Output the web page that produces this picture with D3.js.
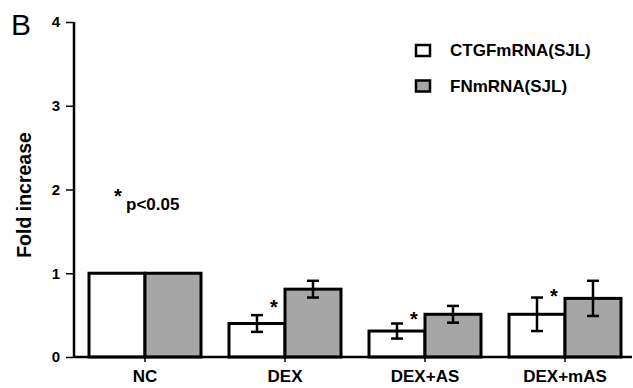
<!DOCTYPE html>
<html>
<head>
<meta charset="utf-8">
<script src="https://cdn.jsdelivr.net/npm/d3@7"></script>
<style>
  body { margin: 0; background: #fff; }
  text { font-family: "Liberation Sans", Arial, sans-serif; font-weight: bold; fill: #000; }
</style>
</head>
<body>
<div id="chart"></div>
<script>
var svgWidth = 633;
var svgHeight = 388;

// data
var groups = ["NC", "DEX", "DEX+AS", "DEX+mAS"];
var seriesNames = ["CTGFmRNA(SJL)", "FNmRNA(SJL)"];
var ctgfMean = [1.0, 0.40, 0.31, 0.51];
var ctgfErr = [0, 0.10, 0.09, 0.20];
var fnMean = [1.0, 0.81, 0.51, 0.70];
var fnErr = [0, 0.10, 0.10, 0.21];
var starLevel = [null, 0.645, 0.50, 0.78];
var yTicks = [0, 1, 2, 3, 4];

var margin = { top: 22, right: 0, bottom: 31, left: 74 };

var svg = d3.select("#chart")
  .append("svg")
  .attr("width", svgWidth)
  .attr("height", svgHeight);

var yScale = d3.scaleLinear()
  .domain([0, 4])
  .range([svgHeight - margin.bottom, margin.top]);

var xScale = d3.scaleBand()
  .domain(groups)
  .range([margin.left + 1, 635])
  .paddingInner(0.2)
  .paddingOuter(0.1);

var xSub = d3.scaleBand()
  .domain(seriesNames)
  .range([0, xScale.bandwidth()]);

var colors = ["#ffffff", "#a6a6a6"];

var rows = groups.map(function(g, i) {
  return [
    { group: g, s: 0, mean: ctgfMean[i], err: ctgfErr[i] },
    { group: g, s: 1, mean: fnMean[i], err: fnErr[i] }
  ];
});

// bars
var barG = svg.append("g");
rows.forEach(function(pair) {
  pair.forEach(function(d) {
    var x0 = xScale(d.group) + xSub(seriesNames[d.s]);
    barG.append("rect")
      .attr("x", x0)
      .attr("y", yScale(d.mean))
      .attr("width", xSub.bandwidth())
      .attr("height", yScale(0) - yScale(d.mean))
      .attr("fill", colors[d.s])
      .attr("stroke", "#000")
      .attr("stroke-width", 3);
  });
});

// error bars
var errG = svg.append("g").attr("stroke", "#000").attr("stroke-width", 2.5);
rows.forEach(function(pair) {
  pair.forEach(function(d) {
    if (!d.err) return;
    var cx = xScale(d.group) + xSub(seriesNames[d.s]) + xSub.bandwidth() / 2;
    var hi = yScale(d.mean + d.err), lo = yScale(d.mean - d.err);
    errG.append("line").attr("x1", cx).attr("x2", cx).attr("y1", hi).attr("y2", lo);
    errG.append("line").attr("x1", cx - 6).attr("x2", cx + 6).attr("y1", hi).attr("y2", hi);
    errG.append("line").attr("x1", cx - 6).attr("x2", cx + 6).attr("y1", lo).attr("y2", lo);
  });
});

// significance stars
groups.forEach(function(g, i) {
  if (starLevel[i] == null) return;
  svg.append("text")
    .attr("x", xScale(g) + xScale.bandwidth() / 2 - 11)
    .attr("y", yScale(starLevel[i]) + 11)
    .attr("text-anchor", "middle")
    .style("font-size", "20px")
    .text("*");
});

// axes
var leftAxis = d3.axisLeft(yScale).tickValues(yTicks).tickFormat(d3.format("d")).tickSize(8).tickPadding(6);
var yAxisG = svg.append("g")
  .attr("transform", "translate(" + margin.left + ",0)")
  .call(leftAxis);
yAxisG.select(".domain").attr("stroke-width", 2.5).attr("d", "M0," + yScale(4) + "V" + yScale(0));
yAxisG.selectAll(".tick line").attr("stroke-width", 1.5);
yAxisG.selectAll(".tick text").style("font-size", "15px").style("font-family", "Liberation Sans, Arial, sans-serif").style("font-weight", "bold");

var bottomAxis = d3.axisBottom(xScale).tickSize(5).tickPadding(8);
var xAxisG = svg.append("g")
  .attr("transform", "translate(0," + yScale(0) + ")")
  .call(bottomAxis);
xAxisG.select(".domain").attr("stroke-width", 2.5).attr("d", "M" + margin.left + ",0H632");
xAxisG.selectAll(".tick line").attr("stroke-width", 1.5);
xAxisG.selectAll(".tick text").style("font-size", "17px").style("font-family", "Liberation Sans, Arial, sans-serif").style("font-weight", "bold");

// y label
svg.append("text")
  .attr("transform", "translate(31," + 195 + ") rotate(-90)")
  .attr("text-anchor", "middle")
  .style("font-size", "19.5px")
  .text("Fold increase");

// panel letter
svg.append("text")
  .attr("x", 11)
  .attr("y", 35)
  .style("font-size", "30px")
  .style("font-weight", "normal")
  .text("B");

// p-value note
svg.append("text")
  .attr("x", 114)
  .attr("y", 203)
  .style("font-size", "20px")
  .text("*");
svg.append("text")
  .attr("x", 126)
  .attr("y", 210)
  .style("font-size", "17px")
  .text("p<0.05");

// legend
var legend = svg.append("g").attr("transform", "translate(416,45)");
seriesNames.forEach(function(name, i) {
  var row = legend.append("g").attr("transform", "translate(0," + (i * 35.5) + ")");
  row.append("rect")
    .attr("width", 14).attr("height", 11)
    .attr("fill", colors[i])
    .attr("stroke", "#000")
    .attr("stroke-width", 2.5);
  row.append("text")
    .attr("x", 34)
    .attr("y", 11)
    .style("font-size", "17px")
    .text(name);
});
</script>
</body>
</html>
